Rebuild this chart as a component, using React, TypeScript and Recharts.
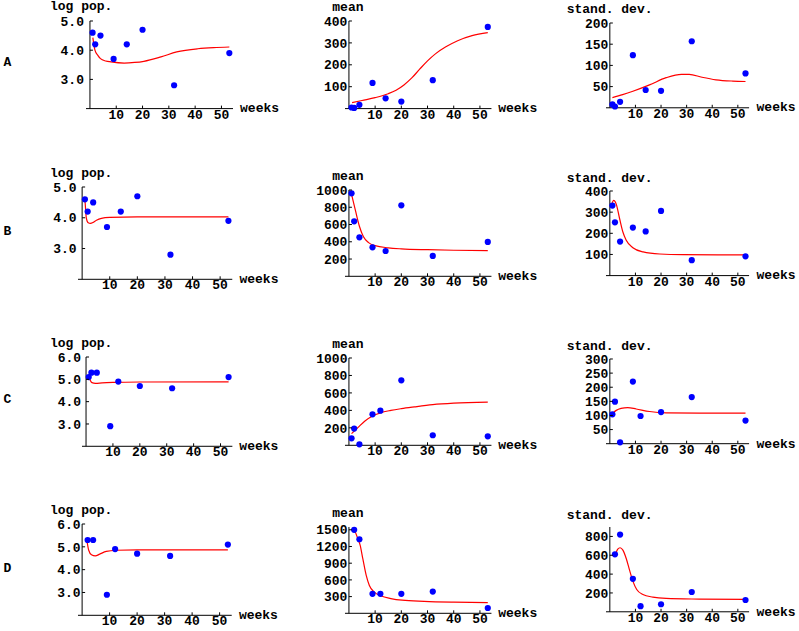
import React from 'react';
import { ComposedChart, Scatter, Line, XAxis, YAxis, ReferenceLine } from 'recharts';

// ============================================
// Data
// ============================================

const WEEKS_AB = [1, 2, 4, 9, 14, 20, 32, 53];
const WEEKS_C = [1, 2, 4, 9, 12, 20, 32, 53];
const WEEKS_D = [2, 4, 9, 12, 20, 32, 53];

const LOGPOP_A = [4.6, 4.2, 4.5, 3.7, 4.2, 4.7, 2.8, 3.9];
const MEAN_A = [5, 3, 17, 117, 47, 32, 130, 373];
const SD_A = [8, 3, 14, 124, 42, 40, 157, 81];

const LOGPOP_B = [4.6, 4.2, 4.5, 3.7, 4.2, 4.7, 2.8, 3.9];
const MEAN_B = [961, 637, 452, 336, 293, 822, 236, 398];
const SD_B = [331, 252, 161, 227, 209, 306, 73, 91];

const LOGPOP_C = [5.1, 5.3, 5.3, 2.9, 4.9, 4.7, 4.6, 5.1];
const MEAN_C = [80, 191, 11, 355, 397, 744, 115, 103];
const SD_C = [104, 149, 5, 220, 98, 112, 165, 82];

const LOGPOP_D = [5.3, 5.3, 2.9, 4.9, 4.7, 4.6, 5.1];
const MEAN_D = [1500, 1330, 350, 350, 350, 390, 95];
const SD_D = [610, 820, 350, 60, 80, 210, 125];

// fitted curves, [week, value]
type Pt = [number, number];

const FIT_LOGPOP_A: Pt[] = [[1.1, 4.43], [1.9, 4.0], [3, 3.82], [4, 3.71], [6, 3.63], [8, 3.6], [13, 3.56], [17, 3.58], [20.5, 3.62], [27, 3.77], [33, 3.94], [41, 4.05], [47, 4.09], [53, 4.11]];
const FIT_MEAN_A: Pt[] = [[1.2, 27], [5, 37], [10, 50], [15, 68], [18, 84], [21, 108], [24, 140], [27, 180], [30, 218], [33, 250], [37, 282], [41.5, 310], [47, 333], [53, 347]];
const FIT_SD_A: Pt[] = [[1, 24], [5, 31], [9, 39], [15.5, 54], [22, 71], [28, 79], [31, 79], [36, 72], [41.5, 66], [48, 63], [53, 62]];

const FIT_LOGPOP_B: Pt[] = [[1, 4.6], [1.2, 4.35], [1.5, 4.0], [2.2, 3.84], [3, 3.82], [4, 3.85], [5.2, 3.92], [7, 3.98], [10, 4.01], [20, 4.03], [53, 4.03]];
const FIT_MEAN_B: Pt[] = [[1, 950], [2.5, 760], [4, 580], [5.5, 460], [7.5, 390], [10, 355], [15, 330], [20, 318], [30, 308], [40, 302], [53, 298]];
const FIT_SD_B: Pt[] = [[0.9, 343], [1.5, 356], [2.5, 338], [3.8, 270], [5.1, 206], [6.4, 167], [9, 132], [13, 112], [19.5, 102], [28.5, 99], [53, 98]];

const FIT_LOGPOP_C: Pt[] = [[1, 5.15], [1.6, 4.95], [2.2, 4.85], [3.5, 4.82], [6, 4.84], [10, 4.86], [20, 4.88], [53, 4.89]];
const FIT_MEAN_C: Pt[] = [[1, 134], [3.5, 205], [6, 275], [9, 335], [12, 372], [16, 400], [20, 420], [25, 440], [32, 465], [40, 482], [53, 495]];
const FIT_SD_C: Pt[] = [[0.9, 106], [2.5, 118], [4.4, 125], [7, 128], [10.3, 123], [15.5, 114], [22, 109], [35, 108], [53, 108]];

const FIT_LOGPOP_D: Pt[] = [[1.8, 5.23], [2.4, 4.85], [3.4, 4.65], [4.8, 4.6], [6.4, 4.68], [8.8, 4.8], [12.5, 4.85], [20, 4.87], [53, 4.87]];
const FIT_MEAN_D: Pt[] = [[2.2, 1490], [3.4, 1340], [4.3, 1220], [5.3, 980], [6.6, 680], [7.8, 500], [9.7, 380], [12.3, 310], [16, 265], [20.3, 235], [28.7, 215], [40, 200], [53, 190]];
const FIT_SD_D: Pt[] = [[2.1, 602], [3.1, 665], [4, 680], [5.1, 655], [6.4, 566], [7.7, 442], [9, 326], [10.5, 237], [12.9, 184], [16.8, 156], [22, 142], [35, 135], [53, 131]];

const X_TICKS = [10, 20, 30, 40, 50];
const ROW_LETTERS = ['A', 'B', 'C', 'D'];

// ============================================
// Layout
// ============================================

const FONT = "'Liberation Mono', 'DejaVu Sans Mono', monospace";
const X_MIN = -1.5;
const X_MAX = 54.4;
const PAD_L = 44;
const PAD_R = 6;
const PAD_T = 6;
const PAD_B = 18;

interface PanelSpec {
  title: string;
  weeks: number[];
  values: number[];
  fit: Pt[];
  yDomain: [number, number];
  yTicks: number[];
  decimals: number;
  axisX: number;
  scale: number;
  top: number;
  bottom: number;
  gap: number;
  titleX: number;
  titleY: number;
}

const PANELS: PanelSpec[] = [
  { title: 'log pop.', weeks: WEEKS_AB, values: LOGPOP_A, fit: FIT_LOGPOP_A, yDomain: [2, 5], yTicks: [3, 4, 5], decimals: 1, axisX: 90, scale: 2.63, top: 20.7, bottom: 108.3, gap: 6, titleX: 50, titleY: 10 },
  { title: 'mean', weeks: WEEKS_AB, values: MEAN_A, fit: FIT_MEAN_A, yDomain: [0, 400], yTicks: [100, 200, 300, 400], decimals: 0, axisX: 348.7, scale: 2.62, top: 20.7, bottom: 108.3, gap: 1.5, titleX: 332.3, titleY: 11.3 },
  { title: 'stand. dev.', weeks: WEEKS_AB, values: SD_A, fit: FIT_SD_A, yDomain: [0, 200], yTicks: [50, 100, 150, 200], decimals: 0, axisX: 610.3, scale: 2.56, top: 22.5, bottom: 107.3, gap: 1.5, titleX: 566.7, titleY: 12.8 },

  { title: 'log pop.', weeks: WEEKS_AB, values: LOGPOP_B, fit: FIT_LOGPOP_B, yDomain: [2, 5], yTicks: [3, 4, 5], decimals: 1, axisX: 82.3, scale: 2.76, top: 186.7, bottom: 279, gap: 5.5, titleX: 50, titleY: 177 },
  { title: 'mean', weeks: WEEKS_AB, values: MEAN_B, fit: FIT_MEAN_B, yDomain: [0, 1000], yTicks: [200, 400, 600, 800, 1000], decimals: 0, axisX: 348.7, scale: 2.62, top: 190, bottom: 276.3, gap: 1.5, titleX: 332.3, titleY: 179.7 },
  { title: 'stand. dev.', weeks: WEEKS_AB, values: SD_B, fit: FIT_SD_B, yDomain: [0, 400], yTicks: [100, 200, 300, 400], decimals: 0, axisX: 610.3, scale: 2.56, top: 190.7, bottom: 275.3, gap: 1.5, titleX: 566.7, titleY: 181.7 },

  { title: 'log pop.', weeks: WEEKS_C, values: LOGPOP_C, fit: FIT_LOGPOP_C, yDomain: [2, 6], yTicks: [3, 4, 5, 6], decimals: 1, axisX: 86, scale: 2.69, top: 356.7, bottom: 446, gap: 5, titleX: 50, titleY: 347.3 },
  { title: 'mean', weeks: WEEKS_C, values: MEAN_C, fit: FIT_MEAN_C, yDomain: [0, 1000], yTicks: [200, 400, 600, 800, 1000], decimals: 0, axisX: 348.7, scale: 2.62, top: 357.7, bottom: 445, gap: 1.5, titleX: 332.3, titleY: 348.3 },
  { title: 'stand. dev.', weeks: WEEKS_C, values: SD_C, fit: FIT_SD_C, yDomain: [0, 300], yTicks: [50, 100, 150, 200, 250, 300], decimals: 0, axisX: 610.3, scale: 2.56, top: 359.3, bottom: 444, gap: 1.5, titleX: 566.7, titleY: 350 },

  { title: 'log pop.', weeks: WEEKS_D, values: LOGPOP_D, fit: FIT_LOGPOP_D, yDomain: [2, 6], yTicks: [3, 4, 5, 6], decimals: 1, axisX: 82.3, scale: 2.75, top: 523.7, bottom: 615, gap: 1.5, titleX: 50, titleY: 514 },
  { title: 'mean', weeks: WEEKS_D, values: MEAN_D, fit: FIT_MEAN_D, yDomain: [0, 1550], yTicks: [300, 600, 900, 1200, 1500], decimals: 0, axisX: 348.7, scale: 2.62, top: 526.7, bottom: 613, gap: 1.5, titleX: 332.3, titleY: 517.3 },
  { title: 'stand. dev.', weeks: WEEKS_D, values: SD_D, fit: FIT_SD_D, yDomain: [0, 900], yTicks: [200, 400, 600, 800], decimals: 0, axisX: 610.3, scale: 2.56, top: 526.9, bottom: 611.7, gap: 1.5, titleX: 566.7, titleY: 519 },
];

const LETTER_Y = [65.7, 235, 402.7, 571.7];

const textStyle = { fontFamily: FONT, fontSize: 13, fontWeight: 700, fill: '#000' };

// ============================================
// Panel
// ============================================

function Panel({ p }: { p: PanelSpec }) {
  const plotLeft = p.axisX + X_MIN * p.scale;
  const plotW = (X_MAX - X_MIN) * p.scale;
  const plotH = p.bottom - p.top;
  const width = PAD_L + plotW + PAD_R;
  const height = PAD_T + plotH + PAD_B;
  const axisXc = PAD_L - X_MIN * p.scale;
  const axisYc = PAD_T + plotH;

  const points = p.weeks.map((w, i) => ({ w, v: p.values[i] }));
  const curve = p.fit.map(([w, v]) => ({ w, v }));

  const renderYTick = (props: any) => {
    const { y, payload } = props;
    return (
      <g>
        <line x1={axisXc} x2={axisXc + 3} y1={y} y2={y} stroke="#000" strokeWidth={1} />
        <text x={axisXc - p.gap} y={y} dy="0.36em" textAnchor="end" style={textStyle}>
          {Number(payload.value).toFixed(p.decimals)}
        </text>
      </g>
    );
  };

  const renderXTick = (props: any) => {
    const { x, payload } = props;
    return (
      <g>
        <line x1={x} x2={x} y1={axisYc} y2={axisYc - 3} stroke="#000" strokeWidth={1} />
        <text x={x} y={axisYc + 10} textAnchor="middle" style={textStyle}>
          {payload.value}
        </text>
      </g>
    );
  };

  return (
    <div style={{ position: 'absolute', left: plotLeft - PAD_L, top: p.top - PAD_T, width, height }}>
      <ComposedChart width={width} height={height} margin={{ top: PAD_T, right: PAD_R, bottom: 0, left: 0 }}>
        <XAxis
          type="number"
          dataKey="w"
          domain={[X_MIN, X_MAX]}
          ticks={X_TICKS}
          height={PAD_B}
          axisLine={false}
          tickLine={false}
          tick={renderXTick}
          interval={0}
        />
        <YAxis
          type="number"
          dataKey="v"
          domain={p.yDomain}
          ticks={p.yTicks}
          width={PAD_L}
          axisLine={false}
          tickLine={false}
          tick={renderYTick}
          interval={0}
        />
        <ReferenceLine x={0} stroke="#000" strokeWidth={1} />
        <ReferenceLine y={p.yDomain[0]} stroke="#000" strokeWidth={1} />
        <Line
          data={curve}
          dataKey="v"
          type="monotone"
          stroke="#ff0000"
          strokeWidth={1.2}
          dot={false}
          isAnimationActive={false}
        />
        <Scatter
          data={points}
          dataKey="v"
          fill="#0000ff"
          isAnimationActive={false}
          shape={(s: any) => <circle cx={s.cx} cy={s.cy} r={3.1} fill="#0000ff" />}
        />
      </ComposedChart>
    </div>
  );
}

export default function App() {
  return (
    <div style={{ position: 'absolute', left: 0, top: 0, width: 799, height: 631, background: '#fff', overflow: 'hidden' }}>
      {PANELS.map((p, i) => (
        <Panel key={i} p={p} />
      ))}
      <svg width={799} height={631} style={{ position: 'absolute', left: 0, top: 0, pointerEvents: 'none' }}>
        {ROW_LETTERS.map((l, i) => (
          <text key={l} x={3.5} y={LETTER_Y[i]} style={textStyle}>
            {l}
          </text>
        ))}
        {PANELS.map((p, i) => (
          <g key={i}>
            <text x={p.titleX} y={p.titleY} style={textStyle}>
              {p.title}
            </text>
            <text x={p.axisX + X_MAX * p.scale + 7} y={p.bottom + 4} style={textStyle}>
              weeks
            </text>
          </g>
        ))}
      </svg>
    </div>
  );
}
